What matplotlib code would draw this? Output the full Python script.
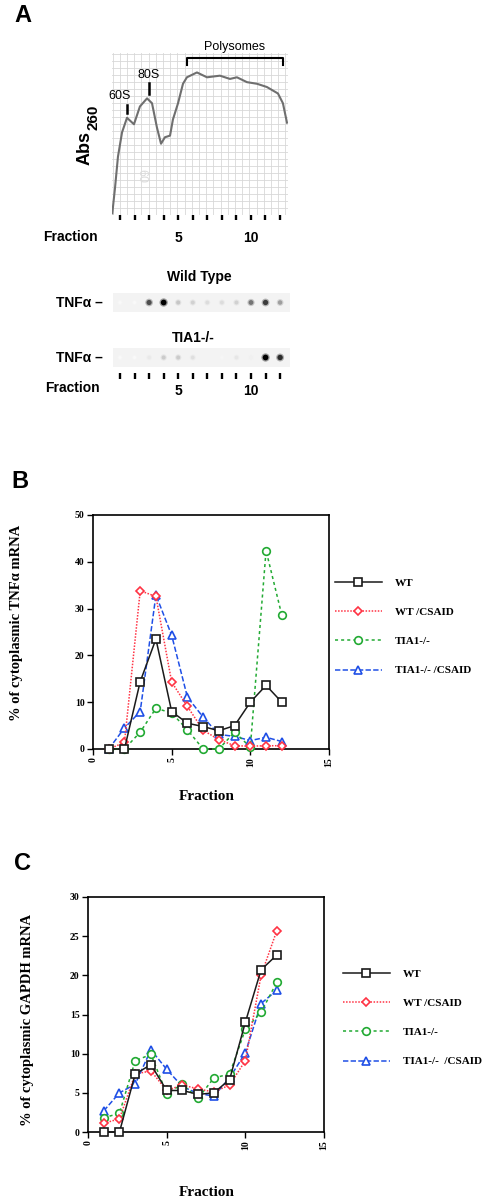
import numpy as np
import matplotlib
matplotlib.use('Agg')
import matplotlib.pyplot as plt
from matplotlib.ticker import MultipleLocator
from matplotlib.lines import Line2D

# ---- data ----
# panel A: Abs260 trace (fraction position, relative absorbance)
abs_frac = [0.47, 0.66, 0.86, 1.14, 1.48, 1.96, 2.37, 2.86, 3.2, 3.54, 3.82, 4.09,
            4.44, 4.64, 4.99, 5.33, 5.6, 6.29, 6.98, 7.87, 8.56, 9.04, 9.73,
            10.42, 11.1, 11.86, 12.2, 12.48]
abs_val = [0.01, 0.17, 0.36, 0.51, 0.60, 0.56, 0.67, 0.72, 0.69, 0.54, 0.44, 0.48,
           0.49, 0.59, 0.69, 0.81, 0.85, 0.88, 0.85, 0.86, 0.84, 0.85, 0.82,
           0.81, 0.79, 0.75, 0.69, 0.57]

# dot blot intensities per fraction (0 = none, 1 = darkest)
fractions = np.arange(1, 13)
blot_wt = [0, 0, 0.75, 1.0, 0.3, 0.25, 0.2, 0.2, 0.25, 0.6, 0.8, 0.45]
blot_tia = [0, 0, 0.12, 0.28, 0.28, 0.18, 0.06, 0.03, 0.14, 0.08, 1.0, 0.85]

# panel B: % of cytoplasmic TNFa mRNA
tnf_wt = [0, 0, 14.4, 23.5, 8.0, 5.5, 4.8, 3.9, 5.0, 10.0, 13.6, 10.0]
tnf_wt_csaid = [0, 1.4, 33.8, 32.6, 14.3, 9.1, 4.0, 2.0, 0.7, 0.6, 0.7, 0.7]
tnf_tia = [0, 0, 3.6, 8.7, 7.7, 4.1, 0, 0, 3.6, 0.4, 42.4, 28.6]
tnf_tia_csaid = [0, 4.5, 8.0, 32.9, 24.3, 11.1, 6.8, 3.1, 2.7, 1.8, 2.5, 1.6]

# panel C: % of cytoplasmic GAPDH mRNA
gapdh_wt = [0, 0, 7.4, 8.6, 5.3, 5.3, 4.8, 5.0, 6.7, 14.0, 20.7, 22.6]
gapdh_wt_csaid = [1.1, 1.7, 7.4, 7.8, 5.3, 6.0, 5.5, 5.1, 6.0, 9.1, 20.0, 25.7]
gapdh_tia = [1.8, 2.4, 9.1, 9.9, 4.9, 6.1, 4.3, 6.9, 7.4, 13.1, 15.3, 19.1]
gapdh_tia_csaid = [2.7, 5.0, 6.1, 10.5, 8.0, 5.8, 4.9, 4.6, 6.9, 10.1, 16.4, 18.1]

labels_b = ['WT', 'WT /CSAID', 'TIA1-/-', 'TIA1-/- /CSAID']
labels_c = ['WT', 'WT /CSAID', 'TIA1-/-', 'TIA1-/-  /CSAID']

W, H = 489, 1200
fig = plt.figure(figsize=(W / 100, H / 100), dpi=100)
SANS = 'Liberation Sans'
SERIF = 'Liberation Serif'


def px_axes(l, t, r, b):
    return fig.add_axes([l / W, 1 - b / H, (r - l) / W, (b - t) / H])


def px_text(x, y, s, **kw):
    fig.text(x / W, 1 - y / H, s, **kw)


# ---------------- panel A ----------------
px_text(23, 15, 'A', fontsize=17, fontweight='bold', family=SANS, ha='center', va='center')

ax = px_axes(112, 53, 288, 215)
ax.set_xlim(0.45, 12.55)
ax.set_ylim(0, 1)
ax.plot(abs_frac, abs_val, color='#6f6f6f', lw=1.5, zorder=3)
# graph paper
ax.xaxis.set_minor_locator(MultipleLocator(0.495))
ax.yaxis.set_minor_locator(MultipleLocator(0.0432))
ax.grid(which='minor', color='#d8d8d8', lw=0.6)
ax.set_axisbelow(True)
for s in ax.spines.values():
    s.set_visible(False)
ax.set_xticks(fractions)
ax.set_xticklabels(['5' if f == 5 else '10' if f == 10 else '' for f in fractions],
                   fontsize=10, fontweight='bold', family=SANS)
ax.tick_params(axis='x', which='major', length=3.8, width=1.7, pad=8)
ax.tick_params(axis='x', which='minor', length=0)
ax.tick_params(axis='y', which='both', length=0, labelleft=False)
# peak marks and polysome bracket
ax.plot([1.48, 1.48], [0.63, 0.68], color='black', lw=1.8, clip_on=False)
ax.plot([2.99, 2.99], [0.75, 0.815], color='black', lw=1.8, clip_on=False)
ax.text(1.0, 0.735, '60S', fontsize=9, family=SANS, ha='center', va='center')
ax.text(2.99, 0.865, '80S', fontsize=9, family=SANS, ha='center', va='center')
ax.plot([5.6, 5.6, 12.2, 12.2], [0.926, 0.969, 0.969, 0.926], color='black', lw=1.5,
        clip_on=False)
ax.text(8.9, 1.037, 'Polysomes', fontsize=9, family=SANS, ha='center', va='center')
ax.text(2.5, 0.24, '60', fontsize=9, color='#dcdcdc', rotation=-90, family=SANS,
        ha='center', va='center')
px_text(85, 148, 'Abs', fontsize=13, fontweight='bold', family=SANS, rotation=90,
        ha='center', va='center')
px_text(93, 117, '260', fontsize=11, fontweight='bold', family=SANS, rotation=90,
        ha='center', va='center')
px_text(70, 237, 'Fraction', fontsize=10, fontweight='bold', family=SANS,
        ha='center', va='center')

# dot blots
px_text(199, 277, 'Wild Type', fontsize=10, fontweight='bold', family=SANS,
        ha='center', va='center')
px_text(193, 338, 'TIA1-/-', fontsize=10, fontweight='bold', family=SANS,
        ha='center', va='center')
for top, vals in [(293, blot_wt), (348, blot_tia)]:
    bx = px_axes(113, top, 290, top + 19)
    bx.set_facecolor('#f3f3f3')
    bx.set_xlim(0.52, 12.68)
    bx.set_ylim(0, 1)
    v = np.array(vals)
    bx.scatter(fractions, np.full(12, 0.5), s=14 + 22 * v, c=v, cmap='Greys',
               vmin=-0.05, vmax=1.0, edgecolors='none', alpha=0.35)
    bx.scatter(fractions, np.full(12, 0.5), s=5 + 12 * v, c=v, cmap='Greys',
               vmin=-0.05, vmax=1.0, edgecolors='none')
    for s in bx.spines.values():
        s.set_visible(False)
    bx.set_yticks([])
    px_text(103, top + 10, 'TNF\u03b1 \u2013', fontsize=10, fontweight='bold', family=SANS,
            ha='right', va='center')
    if top == 348:
        bx.spines['bottom'].set_position(('outward', 4))
        bx.set_xticks(fractions)
        bx.set_xticklabels(['5' if f == 5 else '10' if f == 10 else '' for f in fractions],
                           fontsize=10, fontweight='bold', family=SANS)
        bx.tick_params(axis='x', length=4.5, width=1.7, pad=4)
    else:
        bx.set_xticks([])
px_text(72, 388, 'Fraction', fontsize=10, fontweight='bold', family=SANS,
        ha='center', va='center')

# ---------------- panels B and C ----------------
styles = [
    dict(color='#1a1a1a', ls='-', marker='s', ms=6, zorder=5),
    dict(color='#ff3344', ls=(0, (1, 1)), marker='D', ms=4.5, zorder=4),
    dict(color='#22aa33', ls=(0, (2, 2)), marker='o', ms=5.5, zorder=3),
    dict(color='#1f4fe6', ls=(0, (3.5, 1.5)), marker='^', ms=5.5, zorder=2),
]


def mrna_panel(box, series, labels, ymax, ystep, ylabel, ylab_xy, xlab_xy, leg_xy):
    ax = px_axes(*box)
    for vals, st in zip(series, styles):
        ax.plot(fractions, vals, color=st['color'], ls=st['ls'], lw=1.1,
                marker=st['marker'], ms=st['ms'], mfc='white', mec=st['color'],
                mew=1.2, zorder=st['zorder'], clip_on=False)
    ax.set_xlim(0, 15)
    ax.set_ylim(0, ymax)
    ax.set_xticks([0, 5, 10, 15])
    ax.set_yticks(np.arange(0, ymax + 1, ystep))
    for s in ax.spines.values():
        s.set_linewidth(1.2)
    ax.tick_params(direction='out', length=4, width=1, pad=2, labelsize=7)
    for t in ax.get_xticklabels() + ax.get_yticklabels():
        t.set_fontweight('bold')
        t.set_family(SERIF)
    for t in ax.get_xticklabels():
        t.set_rotation(90)
    px_text(*ylab_xy, ylabel, fontsize=10.5, fontweight='bold', family=SERIF,
            rotation=90, ha='center', va='center')
    px_text(*xlab_xy, 'Fraction', fontsize=11, fontweight='bold', family=SERIF,
            ha='center', va='center')
    handles = [Line2D([], [], color=st['color'], ls=st['ls'], lw=1.1, marker=st['marker'],
                      ms=st['ms'], mfc='white', mec=st['color'], mew=1.2) for st in styles]
    ax.legend(handles, labels, loc='upper left',
              bbox_to_anchor=(leg_xy[0] / W, 1 - leg_xy[1] / H),
              bbox_transform=fig.transFigure, frameon=False,
              prop=dict(family=SERIF, weight='bold', size=8),
              handlelength=4.2, handletextpad=1.2, labelspacing=1.75,
              borderpad=0, borderaxespad=0)
    return ax


px_text(20, 482, 'B', fontsize=17, fontweight='bold', family=SANS, ha='center', va='center')
mrna_panel((93, 515, 329, 749),
           [tnf_wt, tnf_wt_csaid, tnf_tia, tnf_tia_csaid], labels_b, 50, 10,
           '% of cytoplasmic TNF\u03b1 mRNA', (17, 623), (207, 797), (335, 578))

px_text(23, 863, 'C', fontsize=17, fontweight='bold', family=SANS, ha='center', va='center')
mrna_panel((88, 897, 324, 1132),
           [gapdh_wt, gapdh_wt_csaid, gapdh_tia, gapdh_tia_csaid], labels_c, 30, 5,
           '% of cytoplasmic GAPDH mRNA', (28, 1020), (207, 1192), (343, 969))

fig.savefig('out.png', dpi=100)
